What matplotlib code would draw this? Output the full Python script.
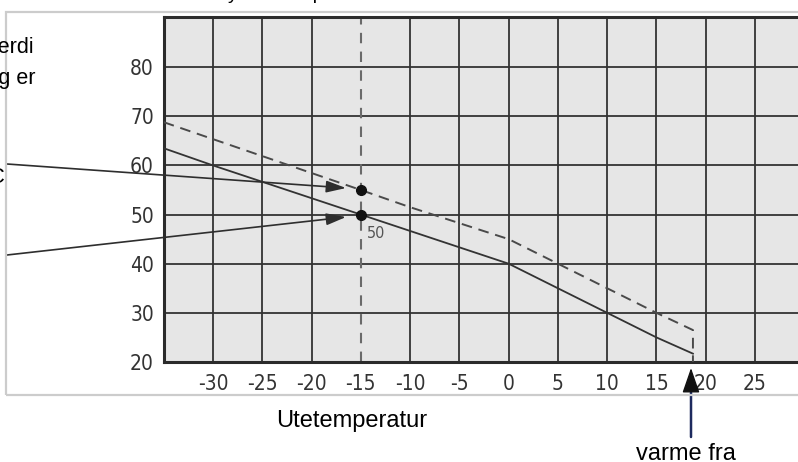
import matplotlib
matplotlib.use("Agg")
import matplotlib.pyplot as plt
from matplotlib import font_manager
from matplotlib.patches import Rectangle

# data
x_ticks = [-30, -25, -20, -15, -10, -5, 0, 5, 10, 15, 20, 25]
y_ticks = [20, 30, 40, 50, 60, 70, 80]

solid_x = [-35, -30, -15, 0, 10, 15, 18.7]
solid_y = [63.5, 60, 50, 40, 30, 25, 21.7]

dashed_x = [-35, -15, -10, 0, 5, 10, 15, 18.7, 18.7]
dashed_y = [68.8, 55, 51.5, 45, 40, 35, 30, 26.5, 20]

design_temp = -15
points_y = [55, 50]
point_label = "50"

W, H = 798, 462

plt.rcParams['axes.unicode_minus'] = False
fonts = font_manager.fontManager.ttflist
names = {f.name for f in fonts}
if 'Liberation Sans Narrow' in names:
    narrow, stretch = 'Liberation Sans Narrow', 'normal'
elif any(f.name == 'DejaVu Sans' and f.stretch == 'condensed' for f in fonts):
    narrow, stretch = 'DejaVu Sans', 'condensed'
else:
    narrow, stretch = 'Liberation Sans', 'normal'
body = ['Liberation Sans', 'DejaVu Sans']


def fx(x):
    return x / W


def fy(y):
    return 1 - y / H


fig = plt.figure(figsize=(W / 100, H / 100), dpi=100)
fig.patch.set_facecolor('white')

# light frame around the figure panel (cut on the right)
fig.patches.append(Rectangle((fx(6), fy(395)), 1.2, fy(12) - fy(395),
                             transform=fig.transFigure, fill=False,
                             edgecolor='#cccccc', lw=1.6, zorder=0))

ax = fig.add_axes([fx(163.7), fy(362), fx(798 - 163.7), (362 - 17) / H])
ax.set_facecolor('#e6e6e6')
ax.set_xlim(-35, 29.36)
ax.set_ylim(20, 90.2)

ax.set_xticks(x_ticks)
ax.set_xticklabels([str(v) for v in x_ticks])
ax.set_yticks(y_ticks + [90])
ax.set_yticklabels([str(v) for v in y_ticks] + [''])
ax.tick_params(length=0, labelsize=15, colors='#333333')
ax.tick_params(axis='x', pad=9)
ax.tick_params(axis='y', pad=7)
for lab in ax.get_xticklabels() + ax.get_yticklabels():
    lab.set_family(narrow)
    lab.set_stretch(stretch)

ax.grid(True, color='#333333', lw=1.3)
ax.set_axisbelow(True)
# the -15 grid line is replaced by the dashed design line
ax.get_xgridlines()[x_ticks.index(design_temp)].set_visible(False)

for side in ['left', 'top', 'bottom']:
    ax.spines[side].set_color('#2b2b2b')
    ax.spines[side].set_linewidth(2.2)
ax.spines['right'].set_visible(False)

ax.axvline(design_temp, color='#6a6a6a', lw=1.5, ls=(0, (5, 4)), zorder=2)

ax.plot(solid_x, solid_y, color='#333333', lw=1.3, zorder=3)
ax.plot(dashed_x, dashed_y, color='#4a4a4a', lw=1.4, ls=(0, (5.5, 3.5)), zorder=3)
ax.plot([design_temp] * len(points_y), points_y, 'o', color='#111111', ms=7, zorder=4)
ax.text(design_temp + 0.6, 46.2, point_label, fontsize=11.5, color='#555555',
        family=narrow, stretch=stretch, va='center', ha='left')

# arrows coming in from the text column on the left
starts = [(7, H - 164), (7, H - 255)]
tips = [55.4, 49.5]
for (sx, sy), ty in zip(starts, tips):
    ax.annotate('', xy=(-16.5, ty), xytext=(sx, sy), textcoords='figure pixels',
                annotation_clip=False,
                arrowprops=dict(arrowstyle='-|>,head_length=1.2,head_width=0.36',
                                mutation_scale=10, color='#2e2e2e', lw=1.2,
                                shrinkA=0, shrinkB=0))

# arrow marking where heating stops: navy shaft, black head
ax.annotate('', xy=(691, H - 386), xycoords='figure pixels',
            xytext=(691, H - 437), textcoords='figure pixels',
            annotation_clip=False,
            arrowprops=dict(arrowstyle='-', color='#1d2a5e', lw=1.8,
                            shrinkA=0, shrinkB=0))
ax.annotate('', xy=(691, H - 368), xycoords='figure pixels',
            xytext=(691, H - 390), textcoords='figure pixels',
            annotation_clip=False,
            arrowprops=dict(arrowstyle='-|>,head_length=1.3,head_width=0.45',
                            mutation_scale=12, color='#111111', lw=1.0,
                            shrinkA=0, shrinkB=0))

# texts (partly cut off like the reference)
fig.text(fx(215), fy(-1), 'Systemtemperatur', fontsize=14, family=body,
         va='baseline', ha='left')
fig.text(fx(35), fy(53), 'verdi', fontsize=15.5, family=body, va='baseline', ha='right')
fig.text(fx(35), fy(84), 'økning er', fontsize=15.5, family=body, va='baseline', ha='right')
fig.text(fx(5), fy(183), '55 °C', fontsize=16, family=body, va='baseline', ha='right')
fig.text(fx(352), fy(427), 'Utetemperatur', fontsize=17, family=body,
         va='baseline', ha='center')
fig.text(fx(686), fy(460), 'varme fra', fontsize=17, family=body,
         va='baseline', ha='center')

fig.savefig('out.png', dpi=100)
